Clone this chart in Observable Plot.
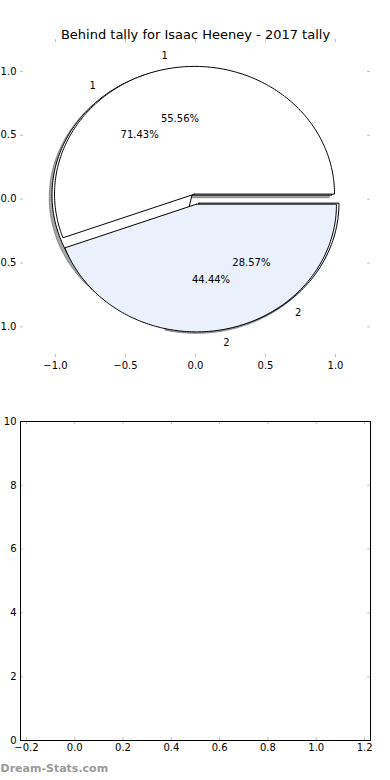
<!DOCTYPE html>
<html>
<head>
<meta charset="utf-8">
<script src="https://cdn.jsdelivr.net/npm/d3@7"></script>
<script src="https://cdn.jsdelivr.net/npm/@observablehq/plot@0.6"></script>
<style>
  html, body { margin: 0; padding: 0; background: #fff; }
  #chart { width: 390px; }
  #chart svg { display: block; }
</style>
</head>
<body>
<div id="chart"></div>
<script>
// ---- data ----
const title = "Behind tally for Isaac Heeney - 2017 tally";
const sliceLabels = ["1", "2"];
const pieAValues = [5, 4];   // 55.56% / 44.44%
const pieBValues = [5, 2];   // 71.43% / 28.57%
const sliceColors = ["#ffffff", "#eaf1fc"];
const xTicksTop = [-1, -0.5, 0, 0.5, 1];
const yTicksTop = [-1, -0.5, 0, 0.5, 1];
const xTicksBottom = [-0.2, 0, 0.2, 0.4, 0.6, 0.8, 1.0, 1.2];
const yTicksBottom = [0, 2, 4, 6, 8, 10];
const watermark = "Dream-Stats.com";

// ---- geometry helpers (unit pie, counter-clockwise from 0°) ----
const EXPLODE = 0.04;
function pieGeometry(values, pieId, offX = 0, offY = 0) {
  const total = d3.sum(values);
  let start = 0;
  const pts = [], lbls = [];
  values.forEach((v, i) => {
    const span = v / total * 360;
    const t1 = start, t2 = start + span;
    const mid = (t1 + t2) / 2 * Math.PI / 180;
    const cx = EXPLODE * Math.cos(mid) + offX, cy = EXPLODE * Math.sin(mid) + offY;
    const id = pieId + "-" + i;
    pts.push({x: cx, y: cy, id, i});
    const n = Math.ceil(span);
    for (let k = 0; k <= n; k++) {
      const a = (t1 + span * k / n) * Math.PI / 180;
      pts.push({x: cx + Math.cos(a), y: cy + Math.sin(a), id, i});
    }
    pts.push({x: cx, y: cy, id, i});
    const lx = cx + 1.1 * Math.cos(mid), ly = cy + 1.1 * Math.sin(mid);
    lbls.push({x: lx, y: ly, text: sliceLabels[i], right: lx > 0});
    lbls.push({x: cx + 0.6 * Math.cos(mid), y: cy + 0.6 * Math.sin(mid),
               text: (v / total * 100).toFixed(2) + "%", pct: true});
    start = t2;
  });
  return {pts, lbls};
}

const pieB = pieGeometry(pieBValues, "B");
const pieBShadow = pieGeometry(pieBValues, "S", -0.02, -0.02);
const pieA = pieGeometry(pieAValues, "A");

function wedgeMarks(geom, stroke, fills, strokeOpacity = 1, fillOpacity = 1) {
  return sliceLabels.map((_, i) => Plot.line(geom.pts.filter(d => d.i === i), {
    x: "x", y: "y", z: "id", fill: fills[i], fillOpacity, stroke, strokeOpacity, strokeWidth: 1, curve: "linear"
  }));
}

const W = 390;
const tickColor = "#bfbfbf";

// ---- top chart (pies) ----
const H1 = 390, mT1 = 39, mB1 = 33, mL = 20, mR = 20;
const fh1 = H1 - mT1 - mB1, fw = W - mL - mR;
const allLabels = [...pieB.lbls, ...pieA.lbls];
const pieChart = Plot.plot({
  width: W, height: H1,
  marginTop: mT1, marginBottom: mB1, marginLeft: mL, marginRight: mR,
  style: {fontFamily: "DejaVu Sans", fontSize: "10px", color: "#000", background: "#fff"},
  x: {domain: [-1.25, 1.25]},
  y: {domain: [-1.24, 1.25]},
  marks: [
    ...wedgeMarks(pieBShadow, "#4d4d4d", ["#4d4d4d", "#4d4d4d"], 0.5, 0.5),
    ...wedgeMarks(pieB, "#000", sliceColors),
    ...wedgeMarks(pieA, "#000", sliceColors),
    Plot.text(allLabels.filter(d => !d.pct && d.right), {x: "x", y: "y", text: "text", textAnchor: "start", fontSize: 10}),
    Plot.text(allLabels.filter(d => !d.pct && !d.right), {x: "x", y: "y", text: "text", textAnchor: "end", fontSize: 10}),
    Plot.text(allLabels.filter(d => d.pct), {x: "x", y: "y", text: "text", textAnchor: "middle", fontSize: 10}),
    // inward ticks on all sides
    Plot.tickX(xTicksTop, {x: d => d, stroke: tickColor, insetTop: fh1 - 3}),
    Plot.tickX(xTicksTop, {x: d => d, stroke: tickColor, insetBottom: fh1 - 3}),
    Plot.tickY(yTicksTop, {y: d => d, stroke: tickColor, insetRight: fw - 3}),
    Plot.tickY(yTicksTop, {y: d => d, stroke: tickColor, insetLeft: fw - 3}),
    Plot.axisX(xTicksTop, {anchor: "bottom", tickSize: 0, tickPadding: 4, tickFormat: d3.format(".1f"), label: null, fontSize: 10}),
    Plot.axisY(yTicksTop, {anchor: "left", tickSize: 0, tickPadding: 4, tickFormat: d3.format(".1f"), label: null, fontSize: 10}),
    Plot.text([title], {frameAnchor: "top", dy: -10, text: d => d, fontSize: 13, textAnchor: "middle"})
  ]
});

// ---- bottom chart (empty axes) ----
const H2 = 390, mT2 = 31, mB2 = 40;
const fh2 = H2 - mT2 - mB2;
const emptyChart = Plot.plot({
  width: W, height: H2,
  marginTop: mT2, marginBottom: mB2, marginLeft: mL, marginRight: mR,
  style: {fontFamily: "DejaVu Sans", fontSize: "10px", color: "#000", background: "#fff", overflow: "visible"},
  x: {domain: [-0.2245, 1.2245]},
  y: {domain: [0, 10]},
  marks: [
    Plot.tickX(xTicksBottom, {x: d => d, stroke: tickColor, insetTop: fh2 - 3}),
    Plot.tickX(xTicksBottom, {x: d => d, stroke: tickColor, insetBottom: fh2 - 3}),
    Plot.tickY(yTicksBottom, {y: d => d, stroke: tickColor, insetRight: fw - 3}),
    Plot.tickY(yTicksBottom, {y: d => d, stroke: tickColor, insetLeft: fw - 3}),
    Plot.frame({stroke: "#000", strokeWidth: 1}),
    Plot.axisX(xTicksBottom, {anchor: "bottom", tickSize: 0, tickPadding: 3, tickFormat: d3.format(".1f"), label: null, fontSize: 10}),
    Plot.axisY(yTicksBottom, {anchor: "left", tickSize: 0, tickPadding: 4, tickFormat: d3.format("d"), label: null, fontSize: 10}),
    Plot.text([watermark], {frameAnchor: "bottom-left", dx: -20, dy: 31, text: d => d, textAnchor: "start", fontSize: 11, fill: "#999", fontWeight: "600"})
  ]
});

document.getElementById("chart").append(pieChart, emptyChart);
</script>
</body>
</html>
